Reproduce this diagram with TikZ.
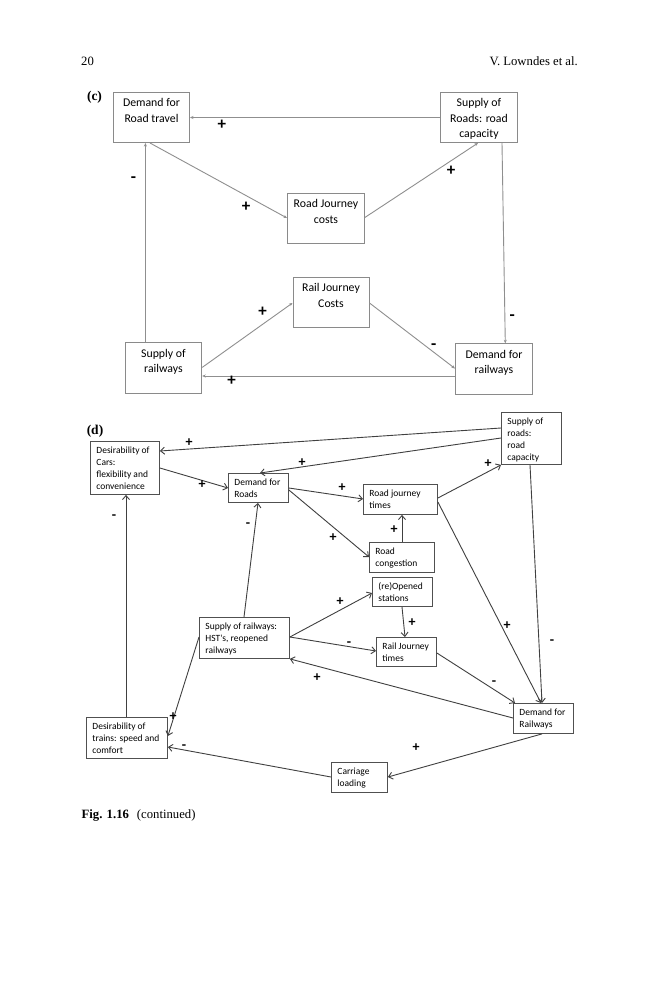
\documentclass[tikz,border=0pt]{standalone}
\usepackage{fontspec}
\setmainfont{Liberation Serif}
\newfontfamily\calfont{Carlito}
\usetikzlibrary{arrows.meta}
\definecolor{cline}{HTML}{8F8F8F}
\definecolor{cboxc}{HTML}{8A8A8A}
\definecolor{dline}{HTML}{404040}
\definecolor{dboxc}{HTML}{505050}
\newcommand\ctext[3]{\parbox[t][#2][t]{#1}{\centering\rule{0pt}{14.4bp}#3}}
\newcommand\dtext[3]{\parbox[t][#2][t]{#1}{\raggedright\leftskip=6bp\rule{0pt}{12.5bp}#3}}
\begin{document}
\begin{tikzpicture}[x=1bp,y=-1bp,
  cbx/.style={draw=cboxc,line width=1bp,inner sep=0pt,anchor=north west,font=\calfont\fontsize{11.8bp}{15.5bp}\selectfont},
  dbx/.style={draw=dboxc,line width=0.9bp,inner sep=0pt,anchor=north west,font=\calfont\fontsize{9.5bp}{11.7bp}\selectfont},
  carr/.style={draw=cline,line width=0.9bp,-{Stealth[length=3.5bp,width=3bp]}},
  darr/.style={draw=dline,line width=0.9bp,-{Straight Barb[length=4bp,width=7bp]}},
  sgnc/.style={font=\calfont\bfseries\fontsize{17bp}{17bp}\selectfont,inner sep=0pt},
  sgnd/.style={font=\calfont\bfseries\fontsize{14bp}{14bp}\selectfont,inner sep=0pt},
  hdr/.style={font=\fontsize{12.7bp}{14bp}\selectfont,inner sep=0pt},
  plab/.style={font=\bfseries\fontsize{13.5bp}{14bp}\selectfont,inner sep=0pt}]
\fill[white] (0,0) rectangle (659,1000);
\useasboundingbox (0,0) rectangle (659,1000);
% header
\node[hdr,anchor=west] (pg) at (81,61) {20};
\node[hdr,anchor=east] (au) at (578,61) {V. Lowndes et al.};
% ---------------- panel (c)
\node[plab] (lc) at (94.5,97.5) {(c)};
\node[cbx] (drt) at (113,92) {\ctext{76bp}{50bp}{Demand for\\Road travel}};
\node[cbx] (sr) at (440,92) {\ctext{77bp}{50bp}{Supply of\\Roads: road\\capacity}};
\node[cbx] (rjc) at (287,193) {\ctext{77bp}{50bp}{Road Journey\\costs}};
\node[cbx] (rlc) at (292.5,277) {\ctext{76bp}{50bp}{Rail Journey\\Costs}};
\node[cbx] (sra) at (124.7,342.3) {\ctext{76.5bp}{51bp}{Supply of\\railways}};
\node[cbx] (dra) at (455,343.3) {\ctext{77bp}{51bp}{Demand for\\railways}};
\draw[carr] (sr.west |- 0,117.5) -- (drt.east |- 0,117.5);
\draw[carr] (drt.south -| 150,0) -- (rjc.west |- 0,218);
\draw[carr] (rjc.east |- 0,217.4) -- (sr.south -| 478,0);
\draw[carr] (sra.north -| 145.4,0) -- (drt.south -| 145.4,0);
\draw[carr] (sr.south -| 502,0) -- (dra.north -| 505.3,0);
\draw[carr] (sra.east |- 0,367.4) -- (rlc.west |- 0,303);
\draw[carr] (rlc.east |- 0,303) -- (dra.west |- 0,368.5);
\draw[carr] (dra.west |- 0,376) -- (sra.east |- 0,376);
\node[sgnc] (c1) at (221.9,124.4) {+};
\node[sgnc] (c2) at (246,206.3) {+};
\node[sgnc] (c3) at (451,170.9) {+};
\node[sgnc] (c4) at (133.4,179.5) {-};
\node[sgnc] (c5) at (512.2,317.5) {-};
\node[sgnc] (c6) at (262.5,311.3) {+};
\node[sgnc] (c7) at (433.7,346.8) {-};
\node[sgnc] (c8) at (231.5,381.2) {+};
% ---------------- panel (d)
\node[plab] (ld) at (95,431) {(d)};
\node[dbx] (dcar) at (90,441) {\dtext{69bp}{53bp}{Desirability of\\Cars:\\flexibility and\\convenience}};
\node[dbx] (dro) at (228,473) {\dtext{60bp}{29bp}{Demand for\\Roads}};
\node[dbx] (sro) at (501,412) {\dtext{60bp}{52bp}{Supply of\\roads:\\road\\capacity}};
\node[dbx] (rjt) at (363,484) {\dtext{74bp}{30bp}{Road journey\\times}};
\node[dbx] (rcg) at (369,542) {\dtext{65bp}{30bp}{Road\\congestion}};
\node[dbx] (ros) at (372,577) {\dtext{60bp}{29bp}{(re)Opened\\stations}};
\node[dbx] (rlt) at (376,637) {\dtext{60bp}{29bp}{Rail Journey\\times}};
\node[dbx] (drw) at (513,703) {\dtext{60bp}{30bp}{Demand for\\Railways}};
\node[dbx] (cl) at (331,762) {\dtext{56bp}{30bp}{Carriage\\loading}};
\node[dbx] (srw) at (199,617) {\dtext{90bp}{41bp}{Supply of railways:\\HST's, reopened\\railways}};
\node[dbx] (dtr) at (86,717) {\dtext{81bp}{41bp}{Desirability of\\trains: speed and\\comfort}};
\draw[darr] (sro.west |- 0,428) -- (dcar.east |- 0,451);
\draw[darr] (sro.west |- 0,438) -- (dro.north -| 260,0);
\draw[darr] (dcar.east |- 0,468) -- (dro.west |- 0,488);
\draw[darr] (dro.east |- 0,488) -- (rjt.west |- 0,499);
\draw[darr] (dro.east |- 0,490) -- (rcg.west |- 0,557);
\draw[darr] (rcg.north -| 402,0) -- (rjt.south -| 402,0);
\draw[darr] (rjt.east |- 0,498) -- (sro.south west);
\draw[darr] (rjt.east |- 0,502) -- (drw.north -| 541,0);
\draw[darr] (sro.south -| 530,0) -- (drw.north -| 542,0);
\draw[darr] (srw.north -| 244,0) -- (dro.south -| 258,0);
\draw[darr] (dtr.north -| 126,0) -- (dcar.south -| 126,0);
\draw[darr] (srw.east |- 0,637) -- (ros.west |- 0,593);
\draw[darr] (srw.east |- 0,637) -- (rlt.west |- 0,651);
\draw[darr] (ros.south -| 402,0) -- (rlt.north -| 405,0);
\draw[darr] (rlt.east |- 0,653) -- (drw.north -| 515,0);
\draw[darr] (drw.west |- 0,718) -- (srw.south east);
\draw[darr] (srw.west |- 0,637) -- (dtr.east |- 0,736);
\draw[darr] (cl.west |- 0,777) -- (dtr.east |- 0,747);
\draw[darr] (drw.south -| 542,0) -- (cl.east |- 0,777);
\node[sgnd] (d1) at (189,443) {+};
\node[sgnd] (d2) at (302,463) {+};
\node[sgnd] (d3) at (202,485) {+};
\node[sgnd] (d4) at (342,488) {+};
\node[sgnd] (d5) at (333,538) {+};
\node[sgnd] (d6) at (394,530) {+};
\node[sgnd] (d7) at (488,464) {+};
\node[sgnd] (d8) at (507,626) {+};
\node[sgnd] (d9) at (552,642) {-};
\node[sgnd] (d10) at (248,525) {-};
\node[sgnd] (d11) at (114,517) {-};
\node[sgnd] (d12) at (340,602) {+};
\node[sgnd] (d13) at (349,644) {-};
\node[sgnd] (d14) at (412,623) {+};
\node[sgnd] (d15) at (494,683) {-};
\node[sgnd] (d16) at (317,678) {+};
\node[sgnd] (d17) at (173,717) {+};
\node[sgnd] (d18) at (184,747) {-};
\node[sgnd] (d19) at (416,748) {+};
% caption
\node[hdr,anchor=west] (cap) at (81.5,815) {\textbf{Fig. 1.16}\hspace{8bp}(continued)};
\end{tikzpicture}
\end{document}
